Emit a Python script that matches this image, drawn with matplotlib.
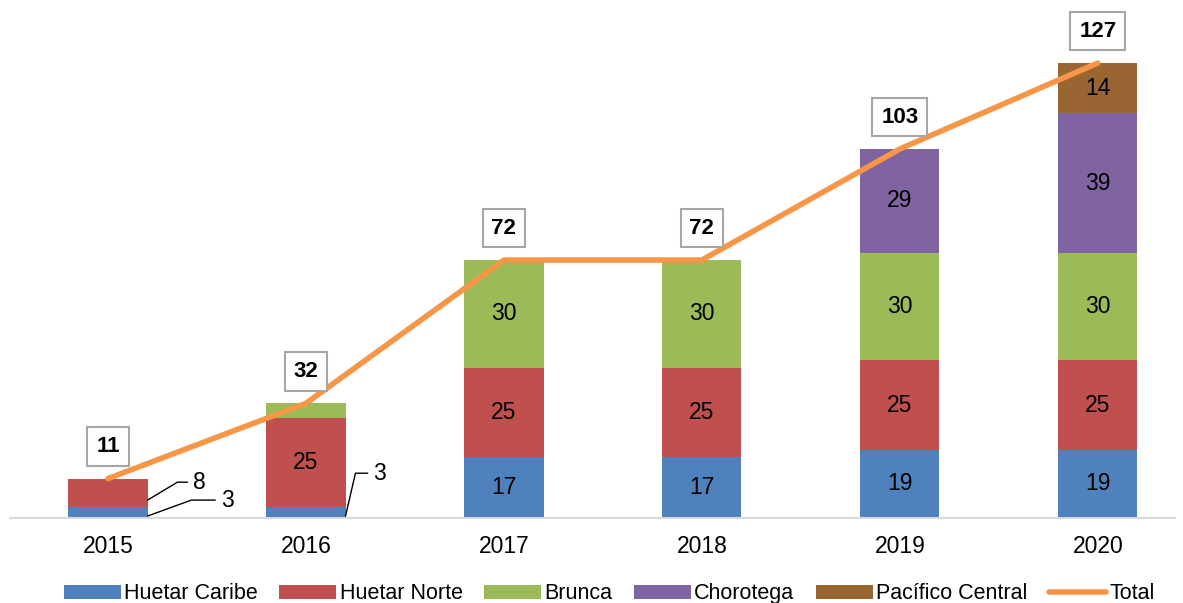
import numpy as np
import matplotlib.pyplot as plt

plt.rcParams['font.family'] = ['Liberation Sans', 'DejaVu Sans']

years = ['2015', '2016', '2017', '2018', '2019', '2020']
huetar_caribe = [3, 3, 17, 17, 19, 19]
huetar_norte = [8, 25, 25, 25, 25, 25]
brunca = [0, 4, 30, 30, 30, 30]
chorotega = [0, 0, 0, 0, 29, 39]
pacifico_central = [0, 0, 0, 0, 0, 14]
total = [11, 32, 72, 72, 103, 127]

series = [
    ('Huetar Caribe', huetar_caribe, '#4F81BD'),
    ('Huetar Norte', huetar_norte, '#C0504D'),
    ('Brunca', brunca, '#9BBB59'),
    ('Chorotega', chorotega, '#8064A2'),
    ('Pacífico Central', pacifico_central, '#996633'),
]

fig = plt.figure(figsize=(11.83, 6.03), dpi=100)
ax = fig.add_axes([10 / 1183, 1 - 518 / 603, 1165 / 1183, 498 / 603])

x = np.arange(len(years))
bottom = np.zeros(len(years))
handles = []
for name, vals, color in series:
    vals = np.array(vals)
    h = ax.bar(x, vals, 0.4, bottom=bottom, color=color, label=name, zorder=2)
    handles.append(h)
    # labels inside the larger segments
    for i, v in enumerate(vals):
        if v >= 10:
            ax.text(x[i], bottom[i] + v / 2, str(v), ha='center', va='center',
                    fontsize=16.5, color='black', zorder=4)
    bottom += vals

line, = ax.plot(x, total, color='#F79646', lw=4, solid_capstyle='round', label='Total', zorder=3)
handles.append(line)

# total labels in boxes
for i, t in enumerate(total):
    ax.annotate(str(t), (x[i], t), xytext=(0, 23), textcoords='offset points',
                ha='center', va='center', fontsize=16, fontweight='bold',
                bbox=dict(boxstyle='square,pad=0.4', fc='white', ec='#A6A6A6', lw=1.5),
                zorder=5)

# small segments with leader lines
def leader(txt, pt, tpos, ang):
    ax.annotate(txt, xy=pt, xytext=tpos, fontsize=16.5, ha='left', va='center',
                arrowprops=dict(arrowstyle='-', color='black', lw=1,
                                connectionstyle='angle,angleA=0,angleB=%d,rad=0' % ang,
                                shrinkA=2, shrinkB=0))

leader('8', (0.2, 5.0), (0.43, 10.0), 31)
leader('3', (0.2, 0.55), (0.57, 5.0), 20)
leader('3', (1.2, 0.55), (1.34, 12.5), 77)

ax.set_xlim(-0.495, 5.39)
ax.set_ylim(0, 139)
ax.set_xticks(x)
ax.set_xticklabels(years, fontsize=16.5)
ax.tick_params(axis='x', length=0, pad=12)
ax.set_yticks([])
for s in ['top', 'right', 'left']:
    ax.spines[s].set_visible(False)
ax.spines['bottom'].set_color('#D9D9D9')
ax.spines['bottom'].set_linewidth(1.5)

fig.legend(handles, [h.get_label() for h in handles],
           loc='center', bbox_to_anchor=(0.515, 0.015), ncol=6, frameon=False,
           fontsize=15.5, handlelength=2.65, handleheight=0.65, handletextpad=0.15,
           columnspacing=1.0)

fig.savefig('out.png', dpi=100)
